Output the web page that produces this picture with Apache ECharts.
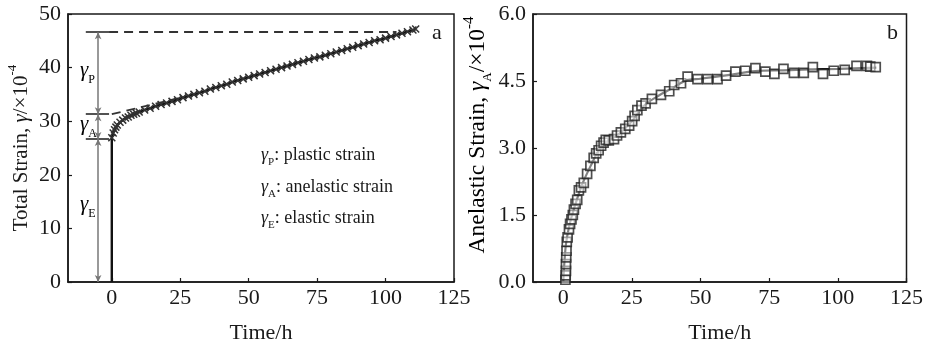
<!DOCTYPE html>
<html><head><meta charset="utf-8">
<script src="https://cdn.jsdelivr.net/npm/echarts@6/dist/echarts.min.js"></script>
<style>html,body{margin:0;padding:0;background:#fff}#c{width:926px;height:349px}</style>
</head><body><div id="c"></div>
<script>
// ---- Panel a: total strain vs time ----
const timeA = [0,0.5,1,1.5,2,3,4,5,6,7,8,9,10,12,14,16,18,20,22,24,26,28,30,32,34,36,38,40,42,44,46,48,50,52,54,56,58,60,62,64,66,68,70,72,74,76,78,80,82,84,86,88,90,92,94,96,98,100,102,104,106,108,110,111];
const strainA = [26.9,27.8,28.4,28.9,29.3,29.8,30.2,30.6,30.8,31.1,31.3,31.5,31.7,32.1,32.4,32.8,33.1,33.4,33.7,34.0,34.4,34.7,35.0,35.3,35.6,36.0,36.3,36.6,36.9,37.3,37.6,37.9,38.2,38.5,38.8,39.1,39.4,39.7,40.0,40.3,40.6,40.9,41.2,41.5,41.8,42.0,42.3,42.6,42.9,43.2,43.5,43.8,44.1,44.4,44.7,45.0,45.2,45.5,45.8,46.1,46.4,46.7,47.0,47.2];
const levelE = 26.7, levelA = 31.3, levelP = 46.6;
const markerTime = -5;
const tickStubStart = -9.5, tickStubEnd = -1;
const plasticDashEnd = 104;
const anelasticDash = [[0, 31.3], [26, 34.5]];
const xTicksA = [0,25,50,75,100,125];

// ---- Panel b: anelastic strain vs time ----
const timeB = [0.8,0.9,1.0,1.0,1.1,1.2,1.3,1.6,2.1,2.5,3.0,3.5,3.9,4.5,5.1,5.7,6.5,7.5,8.7,9.9,11.1,12.0,12.9,13.8,14.7,15.5,16.6,18.5,19.6,21.0,22.6,24.0,25.1,26.0,27.0,28.5,30.0,32.3,35.6,38.6,40.4,42.9,45.3,48.9,52.6,56.2,59.3,62.7,66.3,70.0,73.6,76.9,80.2,84.0,87.6,90.9,94.6,98.5,102.5,106.8,110.6,111.8,113.8];
const strainB = [0.05,0.15,0.25,0.4,0.55,0.7,0.9,1.0,1.18,1.3,1.4,1.5,1.62,1.75,1.84,2.05,2.12,2.22,2.42,2.6,2.78,2.88,2.95,3.05,3.12,3.18,3.17,3.2,3.28,3.35,3.43,3.5,3.6,3.72,3.85,3.95,4.0,4.1,4.19,4.27,4.41,4.45,4.6,4.54,4.54,4.54,4.62,4.71,4.73,4.79,4.71,4.66,4.77,4.68,4.68,4.81,4.66,4.73,4.75,4.84,4.84,4.82,4.81];
const fitTimeB = [0,0.5,1,2,3,5,7,10,13,16,20,25,30,35,40,45,50,60,70,80,90,100,114];
const fitStrainB = [0,0.5,0.85,1.2,1.45,1.85,2.2,2.6,2.95,3.15,3.3,3.6,3.98,4.18,4.35,4.52,4.55,4.63,4.72,4.74,4.76,4.77,4.8];
const xTicksB = [0,25,50,75,100,125];

const FONT = '"Liberation Serif","Times New Roman",serif';
const INK = '#1a1a1a';
const pairs = (xs, ys) => xs.map((x, i) => [x, ys[i]]);

const axisCommon = {
  axisLine: {show: true, onZero: false, lineStyle: {color: INK, width: 1.5}},
  axisTick: {show: true, inside: true, length: 4, lineStyle: {color: INK, width: 1.2}},
  splitLine: {show: false},
};
const labelStyle = {fontFamily: FONT, fontSize: 22, color: INK};
function richSet(size) {
  return {
    n: {fontFamily: FONT, fontSize: size, color: INK, lineHeight: size + 9, verticalAlign: 'middle'},
    i: {fontFamily: FONT, fontSize: size, color: INK, fontStyle: 'italic', lineHeight: size + 9, verticalAlign: 'middle'},
    sup: {fontFamily: FONT, fontSize: Math.round(size * 0.62), color: INK, lineHeight: Math.round(size * 0.62), verticalAlign: 'top'},
    sub: {fontFamily: FONT, fontSize: Math.round(size * 0.57), color: INK, lineHeight: Math.round(size * 0.57), verticalAlign: 'bottom'}
  };
}
const annoRich = {
  i: {fontFamily: FONT, fontSize: 18, fontStyle: 'italic', fill: INK, lineHeight: 26, verticalAlign: 'middle'},
  sub: {fontFamily: FONT, fontSize: 11, fill: INK, lineHeight: 11, verticalAlign: 'bottom'},
  t: {fontFamily: FONT, fontSize: 18, fill: INK, lineHeight: 26, verticalAlign: 'middle'}
};

const curveA = [{value: [0, 0], symbol: 'none'}].concat(pairs(timeA, strainA));
const crossPath = 'path://M0,0L10,10M10,0L0,10';

const option = {
  animation: false,
  grid: [
    {left: 68, top: 14, width: 386, height: 269, show: true, borderColor: INK, borderWidth: 1.5, backgroundColor: 'transparent'},
    {left: 533, top: 14, width: 375, height: 269, show: true, borderColor: INK, borderWidth: 1.5, backgroundColor: 'transparent'}
  ],
  xAxis: [
    Object.assign({}, axisCommon, {
      type: 'value', gridIndex: 0, min: -16, max: 125,
      axisTick: Object.assign({}, axisCommon.axisTick, {customValues: xTicksA}),
      axisLabel: Object.assign({}, labelStyle, {margin: 5, customValues: xTicksA}),
      name: 'Time/h', nameLocation: 'middle', nameGap: 40,
      nameTextStyle: {fontFamily: FONT, fontSize: 22, color: INK}
    }),
    Object.assign({}, axisCommon, {
      type: 'value', gridIndex: 1, min: -11, max: 125,
      axisTick: Object.assign({}, axisCommon.axisTick, {customValues: xTicksB}),
      axisLabel: Object.assign({}, labelStyle, {margin: 5, customValues: xTicksB}),
      name: 'Time/h', nameLocation: 'middle', nameGap: 40,
      nameTextStyle: {fontFamily: FONT, fontSize: 22, color: INK}
    })
  ],
  yAxis: [
    Object.assign({}, axisCommon, {
      type: 'value', gridIndex: 0, min: 0, max: 50, interval: 10,
      axisLabel: Object.assign({}, labelStyle, {margin: 7}),
      name: '{n|Total Strain, }{i|γ}{n|/×10}{sup|-4}', nameLocation: 'middle', nameGap: 32,
      nameTextStyle: {rich: richSet(21)}
    }),
    Object.assign({}, axisCommon, {
      type: 'value', gridIndex: 1, min: 0, max: 6, interval: 1.5,
      axisLabel: Object.assign({}, labelStyle, {margin: 7, formatter: v => v.toFixed(1)})
    })
  ],
  series: [
    {
      type: 'line', xAxisIndex: 0, yAxisIndex: 0, data: [], silent: true,
      markLine: {
        silent: true, symbol: ['none', 'none'], label: {show: false}, animation: false,
        data: [
          [{coord: [tickStubStart, levelE], lineStyle: {color: INK, width: 1.5, type: 'solid'}}, {coord: [tickStubEnd, levelE]}],
          [{coord: [tickStubStart, levelA], lineStyle: {color: INK, width: 1.5, type: 'solid'}}, {coord: [tickStubEnd, levelA]}],
          [{coord: [tickStubStart, levelP], lineStyle: {color: INK, width: 1.5, type: 'solid'}}, {coord: [tickStubEnd, levelP]}],
          [{coord: [tickStubEnd, levelP], lineStyle: {color: '#333', width: 1.8, type: [9, 6]}}, {coord: [plasticDashEnd, levelP]}],
          [{coord: anelasticDash[0], lineStyle: {color: '#333', width: 1.8, type: [9, 6]}}, {coord: anelasticDash[1]}]
        ]
      }
    },
    {
      type: 'line', xAxisIndex: 0, yAxisIndex: 0, data: [], silent: true,
      markLine: {
        silent: true, symbol: ['arrow', 'arrow'], symbolSize: [5, 7], label: {show: false}, animation: false,
        lineStyle: {color: '#777', width: 1.5, type: 'solid'},
        data: [
          [{coord: [markerTime, 0]}, {coord: [markerTime, levelE]}],
          [{coord: [markerTime, levelE]}, {coord: [markerTime, levelA]}],
          [{coord: [markerTime, levelA]}, {coord: [markerTime, levelP]}]
        ]
      }
    },
    {
      type: 'line', xAxisIndex: 0, yAxisIndex: 0, data: curveA,
      symbol: crossPath, symbolSize: 7,
      lineStyle: {color: '#111', width: 2.4},
      itemStyle: {color: 'rgba(0,0,0,0)', borderColor: '#333', borderWidth: 1.5},
      z: 5
    },
    {
      type: 'line', xAxisIndex: 1, yAxisIndex: 1, data: pairs(fitTimeB, fitStrainB),
      smooth: 0.3, symbol: 'none', lineStyle: {color: '#111', width: 2.2}, z: 4
    },
    {
      type: 'scatter', xAxisIndex: 1, yAxisIndex: 1, data: pairs(timeB, strainB),
      symbol: 'rect', symbolSize: 9,
      itemStyle: {color: 'rgba(255,255,255,0.6)', borderColor: '#222', borderWidth: 1.7}, z: 5
    }
  ],
  graphic: [
    {type: 'text', x: 478, y: 135, rotation: Math.PI / 2,
      style: {text: '{n|Anelastic Strain, }{i|γ}{sub|A}{n|/×10}{sup|-4}', rich: richSet(23.5), align: 'center', verticalAlign: 'middle'}},
    {type: 'text', left: 80, top: 60, style: {rich: richSet(21), text: '{i|γ}{sub|P}'}},
    {type: 'text', left: 80, top: 114, style: {rich: richSet(21), text: '{i|γ}{sub|A}'}},
    {type: 'text', left: 80, top: 194, style: {rich: richSet(21), text: '{i|γ}{sub|E}'}},
    {type: 'text', left: 261, top: 146, style: {text: '{i|γ}{sub|P}{t|: plastic strain}', rich: annoRich}},
    {type: 'text', left: 261, top: 178, style: {text: '{i|γ}{sub|A}{t|: anelastic strain}', rich: annoRich}},
    {type: 'text', left: 261, top: 209, style: {text: '{i|γ}{sub|E}{t|: elastic strain}', rich: annoRich}},
    {type: 'text', left: 432, top: 22, style: {text: 'a', font: '22px ' + FONT, fill: INK}},
    {type: 'text', left: 887, top: 22, style: {text: 'b', font: '22px ' + FONT, fill: INK}}
  ]
};
const chart = echarts.init(document.getElementById('c'), null, {renderer: 'canvas'});
chart.setOption(option);
</script></body></html>
